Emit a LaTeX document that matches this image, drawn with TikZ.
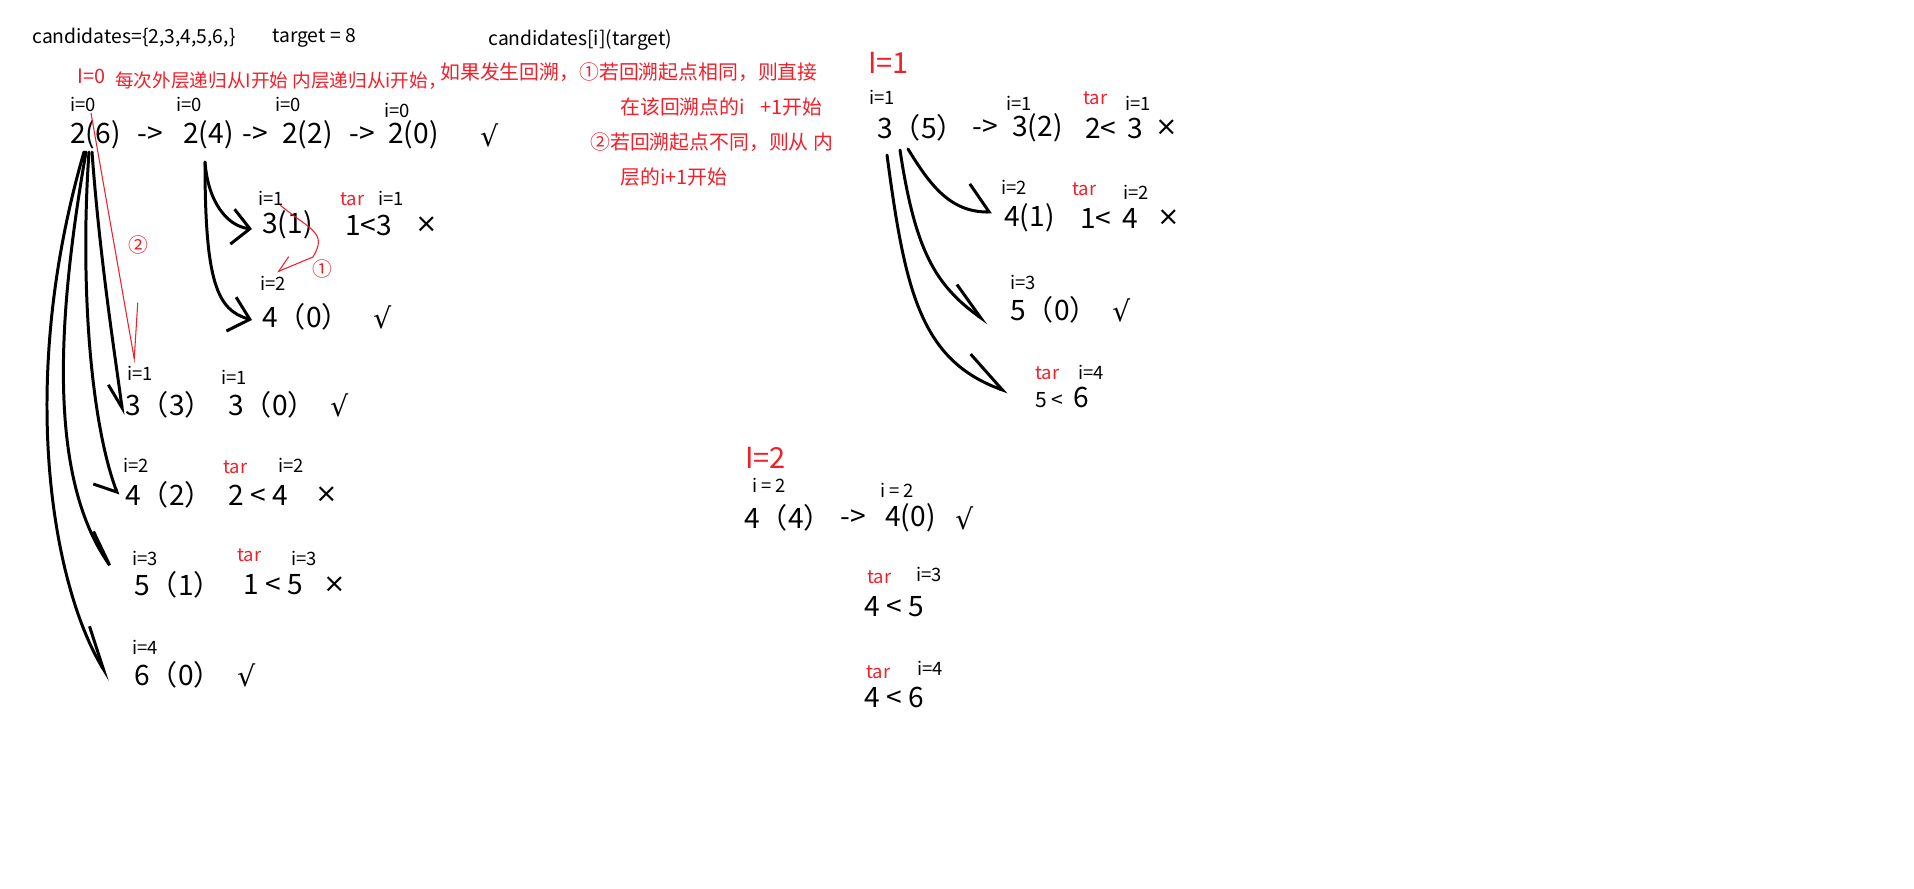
\documentclass[tikz,border=0pt]{standalone}
\usepackage{fontspec}
\setmainfont{Noto Sans CJK SC}
\newfontfamily\symfont{DejaVu Sans}
\usetikzlibrary{arrows.meta,calc}
\definecolor{notered}{HTML}{F0202A}
\newcommand{\okmark}{{\symfont √}}
\newcommand{\nomark}{{\symfont\fontsize{15}{18}\selectfont ×}}

\begin{document}
\begin{tikzpicture}[x=0.02cm, y=-0.02cm,
  hdr/.style={anchor=west, inner sep=0pt, font=\fontsize{11}{13}\selectfont},
  txt/.style={anchor=west, inner sep=0pt, font=\fontsize{16}{18}\selectfont},
  idx/.style={anchor=west, inner sep=0pt, font=\fontsize{10.5}{12}\selectfont},
  tar/.style={idx, text=notered},
  note/.style={anchor=west, inner sep=0pt, text=notered, font=\fontsize{11.3}{13}\selectfont},
  lvl/.style={anchor=west, inner sep=0pt, text=notered, font=\fontsize{16.5}{18}\selectfont},
  pen/.style={line width=1.7pt, line cap=round, line join=round},
  redpen/.style={notered, line width=0.6pt},
]
\path[fill=white, use as bounding box] (0,0) rectangle (1914,889);

% header line
\node[hdr] (cand) at (32,38) {candidates=\{2,3,4,5,6,\}};
\node[hdr] (targ) at (272,38) {target = 8};
\node[hdr] (form) at (488,40) {candidates[i](target)};

% red notes
\node[note] (lvl0) at (77,76) {I=0};
\node[note, font=\fontsize{10.6}{13}\selectfont] (rule) at (115,81) {每次外层递归从I开始 内层递归从i开始，};
\node[note] (back1) at (440,72) {如果发生回溯，①若回溯起点相同，则直接};
\node[note] (back2) at (620,107) {在该回溯点的i\hspace{0.8em}+1开始};
\node[note] (back3) at (590,142) {②若回溯起点不同，则从 内};
\node[note] (back4) at (620,177) {层的i+1开始};

% I=0 : main chain
\foreach \nm/\x/\t in {a1/70/2(6), aa1/137/->, a2/183/2(4), aa2/242/->,
                       a3/282/2(2), aa3/349/->, a4/388/2(0), a5/480/\okmark}
  \node[txt] (\nm) at (\x,135) {\t};

% I=0 : branches
\foreach \nm/\x/\y/\t in {b1/262/225/3(1), b2/345/225/1<3, b3/415/225/\nomark,
                          c1/262/317/4（0）, c2/373/317/\okmark,
                          d1/125/405/3（3）, d2/228/405/3（0）, d3/330/405/\okmark,
                          e1/125/495/4（2）, e2/228/495/2 < 4, e3/315/495/\nomark,
                          f1/134/585/5（1）, f2/243/585/1 < 5, f3/323/585/\nomark,
                          g1/134/675/6（0）, g2/237/675/\okmark}
  \node[txt] (\nm) at (\x,\y) {\t};

% I=1
\node[lvl] (lvl1) at (868,63) {I=1};
\foreach \nm/\x/\y/\t in {r1/877/128/3（5）, ra1/972/128/->, r1b/1012/128/3(2),
                          r1c/1085/128/2<\hspace{0.4em}3, r1d/1155/128/\nomark,
                          r2/1004/218/4(1), r2b/1080/218/1<\hspace{0.4em}4, r2c/1157/218/\nomark,
                          r3/1010/310/5（0）, r3b/1112/310/\okmark}
  \node[txt] (\nm) at (\x,\y) {\t};
\node[txt] (r4) at (1035,397) {{\fontsize{12}{14}\selectfont 5 <}\hspace{0.35em}6};

% I=2
\node[lvl] (lvl2) at (745,458) {I=2};
\foreach \nm/\x/\y/\t in {s1/744/518/4（4）, sa1/840/518/->, s2/885/518/4(0),
                          s3/955/518/\okmark, s4/864/607/4 < 5, s5/864/697/4 < 6}
  \node[txt] (\nm) at (\x,\y) {\t};

% index labels
\foreach \nm/\x/\y/\t in {ia1/70/104/i=0, ia2/176/104/i=0, ia3/275/104/i=0, ia4/384/110/i=0,
                          ib1/258/198/i=1, ib2/378/198/i=1, ic1/260/283/i=2,
                          id1/127/373/i=1, id2/221/377/i=1, ie1/123/465/i=2, ie2/278/465/i=2,
                          if1/132/558/i=3, if2/291/558/i=3, ig1/132/647/i=4,
                          ir0/869/97/i=1, ir1/1006/103/i=1, ir2/1125/103/i=1,
                          ir3/1001/187/i=2, ir4/1123/192/i=2, ir5/1010/282/i=3, ir6/1078/372/i=4,
                          is1/752/485/i = 2, is2/880/490/i = 2, is3/916/574/i=3, is4/917/668/i=4}
  \node[idx] (\nm) at (\x,\y) {\t};
\foreach \nm/\x/\y in {tb/340/199, te/223/467, tf/237/555, tr1/1083/98, tr2/1072/189,
                       tr3/1035/373, ts1/867/577, ts2/866/672}
  \node[tar] (\nm) at (\x,\y) {tar};

% outer recursion from 2(6)
\draw[pen, -{Straight Barb[harpoon, swap, length=14pt, width=12pt]}]
  ($(a1.west)+(22,17)$) .. controls +(8,108) and +(-8,-60) .. ($(d1.west)+(-2,10)$);
\draw[pen, -{Straight Barb[harpoon, swap, length=9pt, width=22pt]}]
  ($(a1.west)+(19,17)$) .. controls +(-9,128) and +(-28,-75) .. ($(e1.west)+(-7,0)$);
\draw[pen, -{Straight Barb[harpoon, length=21pt, width=7pt]}]
  ($(a1.west)+(16,17)$) .. controls +(-31,178) and +(-70,-100) .. ($(f1.west)+(-14,-5)$);
\draw[pen, -{Straight Barb[harpoon, length=25pt, width=12pt]}]
  ($(a1.west)+(14,17)$) .. controls +(-69,238) and +(-55,-90) .. ($(g1.west)+(-24,5)$);

% inner recursion from 2(4)
\draw[pen, -{Straight Barb[length=10pt, width=20pt]}]
  ($(a2.west)+(22,27)$) .. controls +(3,40) and +(-25,-3) .. ($(b1.west)+(-10,4)$);
\draw[pen, -{Straight Barb[length=11pt, width=20pt]}]
  ($(a2.west)+(22,27)$) .. controls +(0,120) and +(-35,-10) .. ($(c1.west)+(-10,3)$);

% recursion from 3(5)
\draw[pen, -{Straight Barb[harpoon, length=11pt, width=32pt]}]
  ($(r1.west)+(31,21)$) .. controls +(22,36) and +(-42,0) .. ($(r2.west)+(-12,-6)$);
\draw[pen, -{Straight Barb[harpoon, length=22pt, width=15pt]}]
  ($(r1.west)+(23,22)$) .. controls +(15,100) and +(-53,-38) .. ($(r3.west)+(-22,13)$);
\draw[pen, -{Straight Barb[harpoon, length=24pt, width=26pt]}]
  ($(r1.west)+(10,27)$) .. controls +(18,135) and +(-88,-32) .. ($(r4.west)+(-27,-5)$);

% red marks
\node[note] (mk2) at (128,245) {②};
\node[note] (mk1) at (312,269) {①};
\draw[redpen, -{Straight Barb[harpoon, length=31pt, width=15pt]}]
  ($(ia1.west)+(21,9)$) -- ($(id1.west)+(8,-10)$);
\draw[redpen, -{Straight Barb[harpoon, swap, length=8.5pt, width=11pt]}]
  ($(ib1.west)+(22,7)$) .. controls +(30,25) and +(15,-25) .. ($(ib1.west)+(55,59)$)
  -- ($(ic1.west)+(17,-11)$);
\end{tikzpicture}
\end{document}
